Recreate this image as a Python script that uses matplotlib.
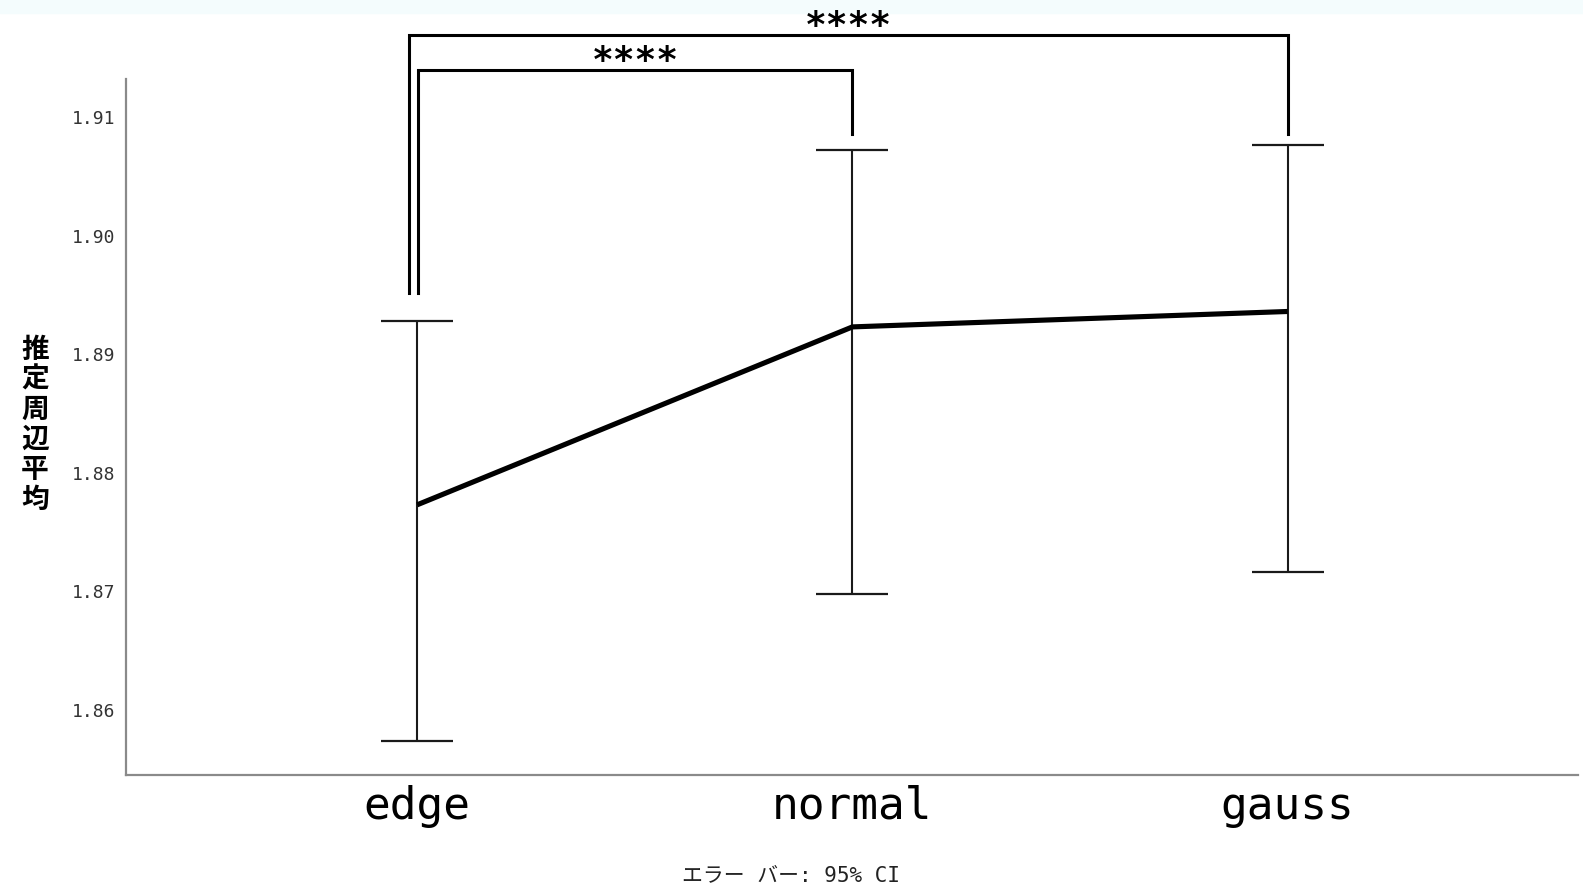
import numpy as np
import matplotlib
matplotlib.use('Agg')  # no display
import matplotlib.pyplot as plt
from matplotlib.patches import Rectangle

# data
groups = ['edge', 'normal', 'gauss']
means = np.array([1.8773, 1.8923, 1.8936])
ci_low = np.array([1.8574, 1.8698, 1.8716])
ci_high = np.array([1.8928, 1.9072, 1.9076])
yticks = [1.86, 1.87, 1.88, 1.89, 1.90, 1.91]

# significance brackets: (left group, right group, label)
pairs = [(0, 1, '****'), (0, 2, '****')]

ylabel = '推定周辺平均'
footnote = 'エラー バー: 95% CI'

mono = ['DejaVu Sans Mono', 'Noto Sans CJK JP']

fig = plt.figure(figsize=(15.83, 8.88), dpi=100)
# pale strip at the very top of the screenshot
fig.patches.append(Rectangle((0, 1 - 13 / 888), 1, 13 / 888,
                             transform=fig.transFigure, color='#f4fcfd', zorder=-5))

ax = fig.add_axes([126 / 1583, 1 - 775 / 888, (1578 - 126) / 1583, (775 - 79) / 888])
ax.set_zorder(1)
ax.patch.set_alpha(0)

x = np.arange(len(groups))

# 95% CI error bars
ax.errorbar(x, means, yerr=[means - ci_low, ci_high - means], fmt='none',
            ecolor='#1a1a1a', elinewidth=1.5, capsize=25.6, capthick=1.6, zorder=2)
# mean line
ax.plot(x, means, color='black', lw=3.7, solid_capstyle='butt', zorder=3)

ax.set_xlim(-0.669, 2.667)
ax.set_ylim(1.85452, 1.91320)
ax.set_xticks(x)
ax.set_xticklabels(groups, fontsize=32, family=mono)
ax.set_yticks(yticks)
ax.set_yticklabels(['%.2f' % v for v in yticks], fontsize=13, family=mono, color='#333333')
ax.tick_params(axis='both', length=0)
ax.tick_params(axis='x', pad=7)
ax.tick_params(axis='y', pad=8)

for s in ['top', 'right']:
    ax.spines[s].set_visible(False)
for s in ['left', 'bottom']:
    ax.spines[s].set_color('#8a8a8a')
    ax.spines[s].set_linewidth(1.6)

# brackets above the plot
bracket_top = {1: 1.91396, 2: 1.91691}
bracket_left_off = {1: 0.002, 2: -0.019}
for a, b, label in pairs:
    top = bracket_top[b]
    xl = x[a] + bracket_left_off[b]
    ax.plot([xl, xl, x[b], x[b]], [1.89516, top, top, 1.90860],
            color='black', lw=2.2, clip_on=False, solid_joinstyle='miter', zorder=4)
    ax.text((xl + x[b]) / 2, top - 0.0001, label, ha='center', va='baseline',
            fontsize=26, family=mono, fontweight='bold', clip_on=False)

# y label: characters stacked top to bottom
fig.text(35 / 1583, 1 - 425 / 888, '\n'.join(ylabel), ha='center', va='center',
         fontsize=20, family=['Noto Sans CJK JP'], fontweight='bold', linespacing=1.09)

fig.text(0.5, 1 - 875 / 888, footnote, ha='center', va='center', fontsize=15,
         family=mono, color='#222222')

plt.savefig('out.png', dpi=100)
